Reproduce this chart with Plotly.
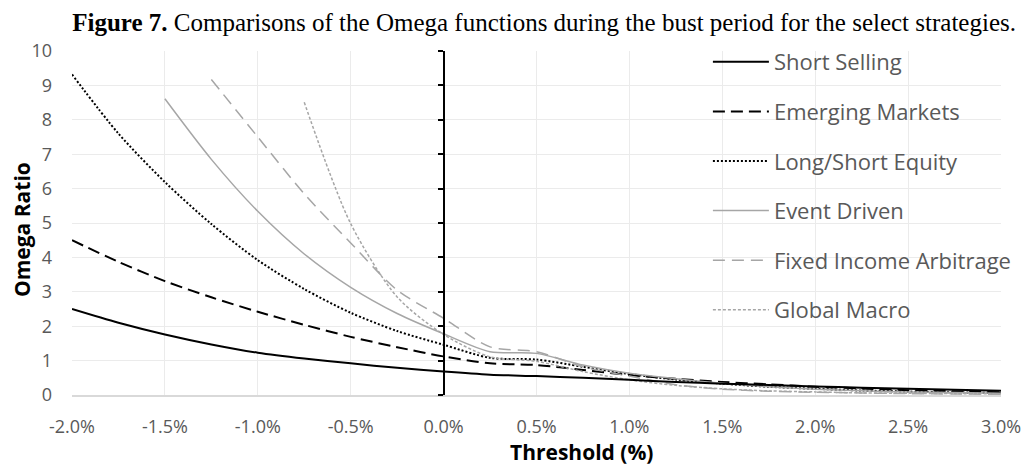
import plotly.graph_objects as go

# threshold grid (%), shared by all series; None where a series is not drawn
thresholds = [-2.0, -1.75, -1.5, -1.25, -1.0, -0.75, -0.5, -0.25, 0.0, 0.25, 0.5,
              0.75, 1.0, 1.25, 1.5, 1.75, 2.0, 2.25, 2.5, 2.75, 3.0]

short_selling = [2.50, 2.10, 1.76, 1.47, 1.23, 1.06, 0.92, 0.79, 0.68, 0.59, 0.55,
                 0.50, 0.44, 0.38, 0.33, 0.29, 0.25, 0.21, 0.18, 0.15, 0.12]
emerging_markets = [4.50, 3.87, 3.31, 2.84, 2.42, 2.04, 1.69, 1.39, 1.12, 0.92, 0.87,
                    0.73, 0.58, 0.47, 0.38, 0.31, 0.24, 0.19, 0.14, 0.11, 0.08]
long_short_equity = [9.32, 7.60, 6.19, 4.97, 3.92, 3.08, 2.39, 1.86, 1.46, 1.08, 1.03,
                     0.82, 0.61, 0.45, 0.33, 0.24, 0.18, 0.13, 0.10, 0.08, 0.06]
event_driven = [None, None, 8.61, 6.85, 5.34, 4.10, 3.13, 2.37, 1.78, 1.26, 1.21,
                0.87, 0.63, 0.47, 0.34, 0.24, 0.17, 0.12, 0.09, 0.07, 0.05]
fixed_income_arb = [None, None, None, 9.17, 7.50, 5.85, 4.42, 3.05, 2.23, 1.40, 1.26,
                    0.82, 0.55, 0.30, 0.17, 0.11, 0.08, 0.06, 0.04, 0.03, 0.02]
global_macro = [None, None, None, None, None, 8.51, 4.98, 2.85, 1.76, 1.11, 0.98,
                0.68, 0.44, 0.28, 0.18, 0.12, 0.09, 0.06, 0.05, 0.04, 0.03]

x_ticks = [-2.0, -1.5, -1.0, -0.5, 0.0, 0.5, 1.0, 1.5, 2.0, 2.5, 3.0]
x_tick_labels = ["-2.0%", "-1.5%", "-1.0%", "-0.5%", "0.0%", "0.5%",
                 "1.0%", "1.5%", "2.0%", "2.5%", "3.0%"]
y_ticks = list(range(0, 11))

GRAY = "#a6a6a6"
TEXT = "#595959"
FONT = "Open Sans"

# name, values, colour, dash, width, y axis (y2 = the crossing axis at 0%)
series = [
    ("Short Selling", short_selling, "black", "solid", 2, "y2"),
    ("Emerging Markets", emerging_markets, "black", "12px,6px", 2, "y"),
    ("Long/Short Equity", long_short_equity, "black", "2px,2px", 2, "y"),
    ("Event Driven", event_driven, GRAY, "solid", 1.5, "y"),
    ("Fixed Income Arbitrage", fixed_income_arb, GRAY, "12px,7px", 1.5, "y"),
    ("Global Macro", global_macro, GRAY, "3px,2px", 1.5, "y"),
]

fig = go.Figure()
for i, (name, vals, color, dash, width, yax) in enumerate(series):
    fig.add_trace(go.Scatter(
        x=thresholds, y=vals, name=name, mode="lines", yaxis=yax,
        line=dict(color=color, dash=dash, width=width, shape="spline", smoothing=0.8),
        legendgroup=f"g{i}", connectgaps=False,
    ))

# page body has an 8px margin, so the figure is 8px smaller on each axis
fig.update_layout(
    width=1027, height=458,
    margin=dict(l=64, r=34, t=43, b=71),
    paper_bgcolor="white", plot_bgcolor="white",
    showlegend=True,
    title=dict(
        text="<b>Figure 7.</b> Comparisons of the Omega functions during the bust period for the select strategies.",
        font=dict(family="Liberation Serif", size=25, color="black"),
        xref="container", x=0.522, xanchor="center",
        yref="container", y=0.969, yanchor="middle",
    ),
    legend=dict(
        x=0.6845, xanchor="left", y=1.029, yanchor="top",
        bgcolor="rgba(0,0,0,0)", font=dict(family=FONT, size=22, color=TEXT),
        tracegroupgap=18, itemwidth=56, maxheight=1,
    ),
    xaxis=dict(
        range=[-2, 3], tickvals=x_ticks, ticktext=x_tick_labels,
        showgrid=True, gridcolor="#ebebeb", gridwidth=1,
        showline=True, linecolor="#d9d9d9", linewidth=1.5,
        ticks="", zeroline=False,
        tickfont=dict(family=FONT, size=18, color=TEXT),
        ticklabelstandoff=15,
    ),
    yaxis=dict(
        range=[0, 10], tickvals=y_ticks,
        showgrid=True, gridcolor="#ebebeb", gridwidth=1,
        showline=False, zeroline=False, ticks="",
        tickfont=dict(family=FONT, size=18, color=TEXT),
        ticklabelstandoff=19,
    ),
    yaxis2=dict(
        range=[0, 10], tickvals=y_ticks, overlaying="y", anchor="free",
        position=0.4, side="left", showticklabels=False, showgrid=False,
        showline=True, linecolor="black", linewidth=2,
        ticks="outside", ticklen=5, tickwidth=1.5, tickcolor="black",
        zeroline=False,
    ),
    annotations=[
        dict(text="<b>Threshold (%)</b>", xref="paper", yref="paper",
             x=(581 - 72) / 929, y=-57 / 344, xanchor="center", yanchor="middle",
             showarrow=False, font=dict(family=FONT, size=21, color="black")),
        dict(text="<b>Omega Ratio</b>", xref="paper", yref="paper",
             x=-50 / 929, y=(395 - 230) / 344, xanchor="center", yanchor="middle",
             textangle=-90, showarrow=False,
             font=dict(family=FONT, size=21, color="black")),
    ],
)

fig.write_html("out.html")
